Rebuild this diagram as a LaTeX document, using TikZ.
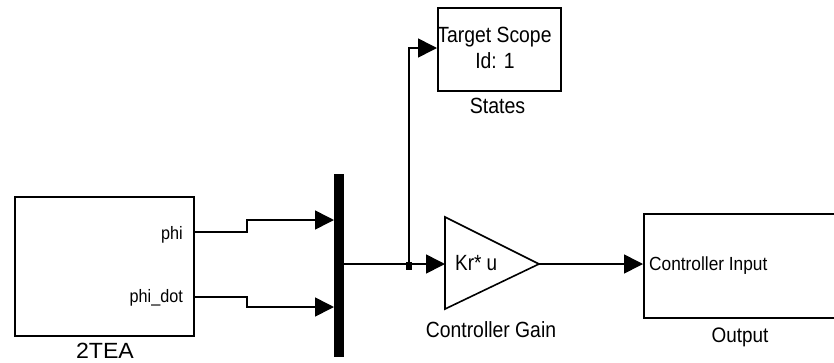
\documentclass[tikz,border=0pt]{standalone}
\usepackage{fontspec}
\usepackage{graphicx}
\setmainfont{Liberation Sans}
\usetikzlibrary{arrows.meta}
\newcommand{\sx}[2]{\scalebox{#1}[1]{#2}}
\tikzset{
  blk/.style={draw=black, line width=1.6pt, fill=white},
  sig/.style={draw=black, line width=1.6pt, -{Triangle[length=19pt,width=19pt]}},
  txt/.style={inner sep=0pt, anchor=base, font=\fontsize{22}{24}\selectfont},
}
\begin{document}
\begin{tikzpicture}[x=1pt,y=-1pt]
\useasboundingbox (0,0) rectangle (834,362);
\clip (0,0) rectangle (834,362);
% blocks
\node[blk, minimum width=179pt, minimum height=139pt, inner sep=0pt, anchor=north west] (tea) at (14,196) {};
\node[txt] (tealbl) at (105,358) {\sx{1.05}{2TEA}};
\node[txt, anchor=base east, font=\fontsize{18}{20}\selectfont] (phi) at (183,239) {\sx{0.9}{phi}};
\node[txt, anchor=base east, font=\fontsize{18}{20}\selectfont] (phidot) at (183,302) {\sx{0.9}{phi\_dot}};
\coordinate (p1) at (193,232);
\coordinate (p2) at (193,297);

\node[fill=black, draw=none, minimum width=10pt, minimum height=183pt, inner sep=0pt, anchor=north west] (mux) at (334,174) {};
\coordinate (m1) at (334,220);
\coordinate (m2) at (334,307);
\coordinate (mo) at (344,264);

\node[blk, minimum width=123pt, minimum height=83pt, inner sep=0pt, anchor=north west] (scope) at (437,7) {};
\node[txt] (scopet1) at (494.5,42) {\sx{0.88}{Target Scope}};
\node[txt] (scopet2) at (495,68) {\sx{0.88}{Id: 1}};
\node[txt] (stateslbl) at (497.5,113) {\sx{0.89}{States}};
\coordinate (si) at (437,48);

\draw[blk] (445,217) -- (539,264) -- (445,309) -- cycle;
\coordinate (gi) at (445,264);
\coordinate (go) at (539,264);
\node[txt, anchor=base west] (gaintxt) at (455,270) {\sx{0.86}{Kr* u}};
\node[txt] (gainlbl) at (491,337) {\sx{0.88}{Controller Gain}};

\node[blk, minimum width=220pt, minimum height=104pt, inner sep=0pt, anchor=north west] (out) at (643,213) {};
\node[txt, anchor=base west, font=\fontsize{19}{21}\selectfont] (outtxt) at (649,270) {\sx{0.91}{Controller Input}};
\node[txt, font=\fontsize{21}{23}\selectfont] (outlbl) at (740,342) {\sx{0.9}{Output}};
\coordinate (oi) at (643,264);

% connectors
\coordinate (br) at (409,264);
\draw[sig] (p1) -- (247,232) -- (247,220) -- (m1);
\draw[sig] (p2) -- (247,297) -- (247,307) -- (m2);
\draw[sig] (mo) -- (gi);
\draw[sig] (br) -- (409,48) -- (si);
\draw[sig] (go) -- (oi);
\fill[black] (br) ++(-3,-2) rectangle ++(6,8);
\end{tikzpicture}
\end{document}
